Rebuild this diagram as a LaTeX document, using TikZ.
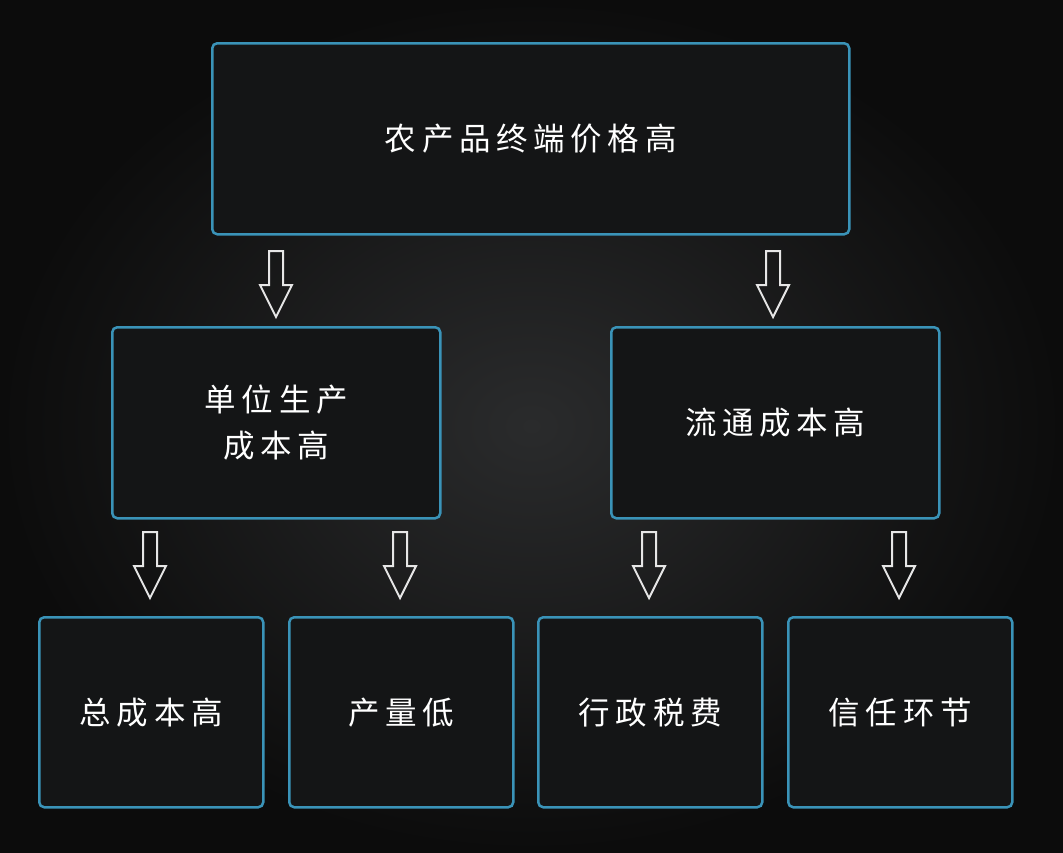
\documentclass[tikz,border=0pt]{standalone}
\usepackage{fontspec}
\newfontfamily\cjk[LetterSpace=18]{Noto Sans CJK SC}
\usetikzlibrary{positioning}
\definecolor{boxline}{HTML}{3A93B8}
\definecolor{boxfill}{HTML}{141516}
\definecolor{bgedge}{HTML}{0C0C0C}
\definecolor{bgmid}{HTML}{2A2B2C}
\definecolor{arrline}{HTML}{E6E6E6}
\tikzset{
  box/.style={draw=boxline, line width=2.5pt, rounded corners=5pt, fill=boxfill,
    text=white, font=\cjk\fontsize{31.5}{46}\selectfont, align=center, anchor=north west},
  hollow/.style={draw=arrline, line width=2pt, line join=miter},
}
% hollow down arrow, top at given point
\newcommand{\downarr}[1]{%
  \draw[hollow] (#1) ++(-7,0) -- ++(14,0) -- ++(0,34) -- ++(9,0) -- ++(-16,32)
    -- ++(-16,-32) -- ++(9,0) -- cycle;}
\begin{document}
\begin{tikzpicture}[x=1pt,y=-1pt]
  \useasboundingbox (0,0) rectangle (1063,852);
  \shade[inner color=bgmid, outer color=bgedge] (0,0) rectangle (1063,852);

  % boxes
  \node[box, minimum width=637, minimum height=191] (top) at (211,42) {农产品终端价格高};
  \node[box, minimum width=328, minimum height=191] (prod) at (111,326) {单位生产\\成本高};
  \node[box, minimum width=328, minimum height=191] (circ) at (610,326) {流通成本高};
  \node[box, minimum width=224, minimum height=190] (total) at (38,616) {总成本高};
  \node[box, minimum width=224, minimum height=190] (yield) at (288,616) {产量低};
  \node[box, minimum width=224, minimum height=190] (tax) at (537,616) {行政税费};
  \node[box, minimum width=224, minimum height=190] (trust) at (787,616) {信任环节};

  % arrows
  \coordinate (a1) at (276,251);
  \coordinate (a2) at (773,251);
  \coordinate (b1) at (150,532);
  \coordinate (b2) at (400,532);
  \coordinate (b3) at (649,532);
  \coordinate (b4) at (899,532);
  \foreach \p in {a1,a2,b1,b2,b3,b4} {\downarr{\p}}
\end{tikzpicture}
\end{document}
